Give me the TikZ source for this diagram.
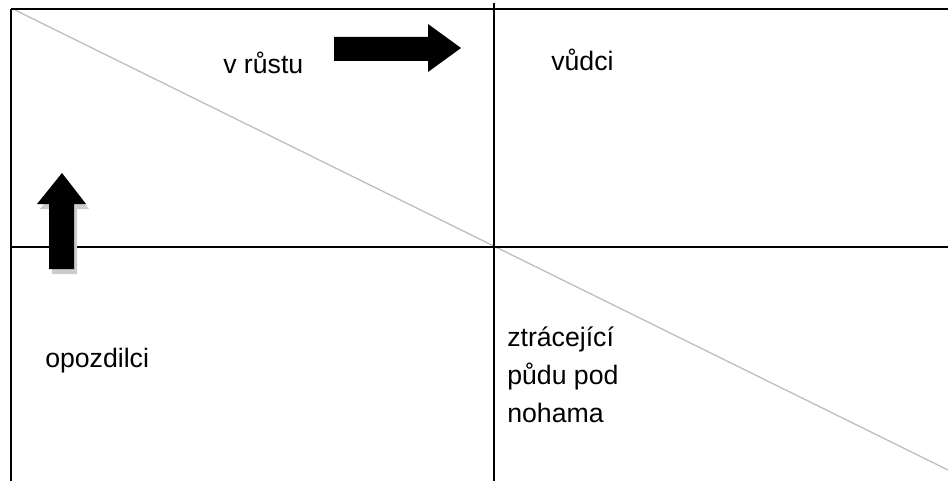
\documentclass[tikz,border=0pt]{standalone}
\usepackage{fontspec}
\setmainfont{Liberation Sans}
\begin{document}
\begin{tikzpicture}[x=0.75pt, y=-0.75pt, font=\fontsize{20}{28.5}\selectfont]
		\useasboundingbox (0,0) rectangle (948,481);
		% diagonal first, grid lines on top
		\draw[color=gray!50, line width=1pt] (15,10) -- (948,470);
		\draw[line width=1.6pt] (11,9) -- (948,9);
		\draw[line width=1.6pt] (11,9) -- (11,481);
		\draw[line width=1.6pt] (11,247) -- (948,247);
		\draw[line width=1.6pt] (494,3) -- (494,481);
		% block arrows
		\fill (334,37) -- (428,37) -- (428,24) -- (461,48) -- (428,72) -- (428,61) -- (334,61) -- cycle;
		\fill[color=gray!40] (52,274) -- (52,209) -- (40,209) -- (65,178) -- (89,209) -- (77,209) -- (77,274) -- cycle;
		\fill (49,269) -- (49,204) -- (37,204) -- (62,173) -- (86,204) -- (74,204) -- (74,269) -- cycle;
		% labels
		\node[anchor=base west, inner sep=0pt] (rust) at (223,74) {v růstu};
		\node[anchor=base west, inner sep=0pt] (vudci) at (551,71) {vůdci};
		\node[anchor=base west, inner sep=0pt] (opozdilci) at (45,367) {opozdilci};
		\node[anchor=base west, inner sep=0pt, align=left] (ztraceji) at (507,422) {ztrácející\\půdu pod\\nohama};
	\end{tikzpicture}
\end{document}
